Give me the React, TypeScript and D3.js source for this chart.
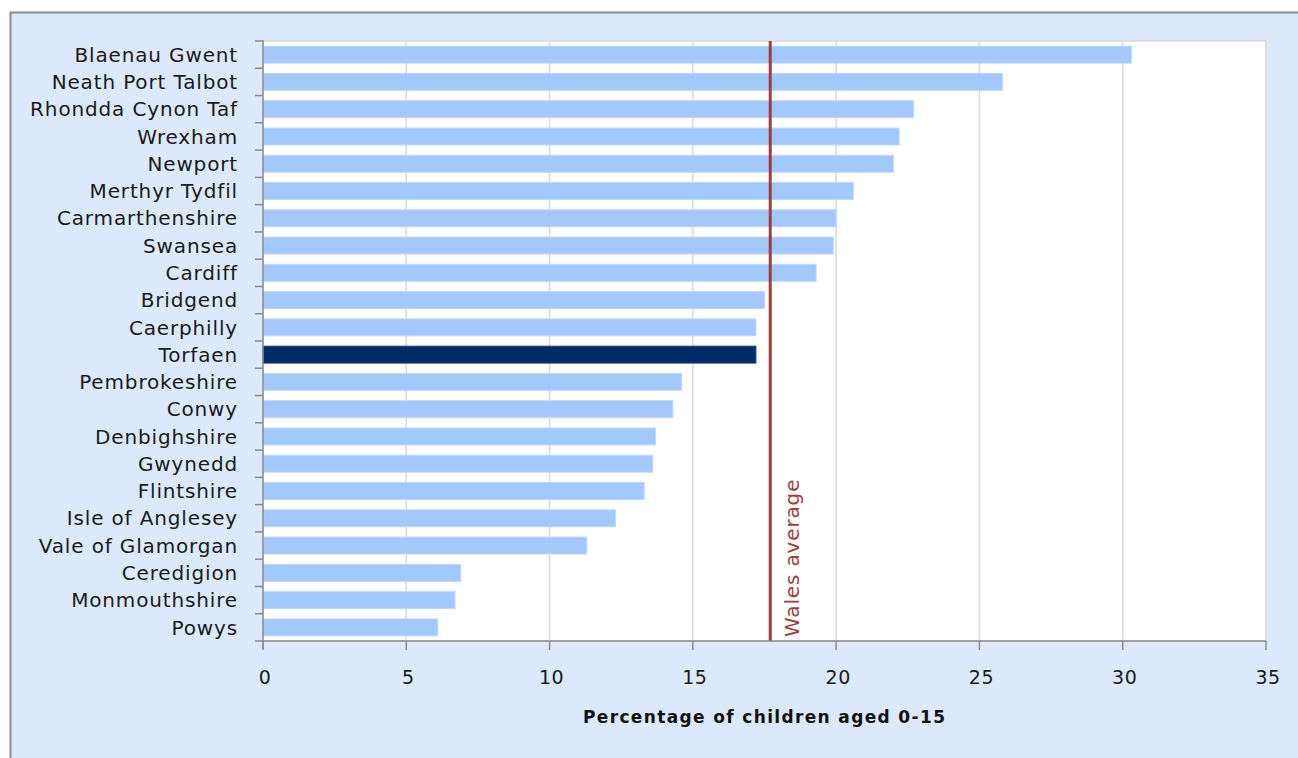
import React from "react";
import * as d3 from "d3";

const categories = [
  "Blaenau Gwent", "Neath Port Talbot", "Rhondda Cynon Taf", "Wrexham", "Newport",
  "Merthyr Tydfil", "Carmarthenshire", "Swansea", "Cardiff", "Bridgend", "Caerphilly",
  "Torfaen", "Pembrokeshire", "Conwy", "Denbighshire", "Gwynedd", "Flintshire",
  "Isle of Anglesey", "Vale of Glamorgan", "Ceredigion", "Monmouthshire", "Powys",
];
const values = [
  30.3, 25.8, 22.7, 22.2, 22.0, 20.6, 20.0, 19.9, 19.3, 17.5, 17.2,
  17.2, 14.6, 14.3, 13.7, 13.6, 13.3, 12.3, 11.3, 6.9, 6.7, 6.1,
];
const highlighted = "Torfaen";
const walesAverage = 17.7;
const xTicks = [0, 5, 10, 15, 20, 25, 30, 35];
const xTitle = "Percentage of children aged 0-15";
const avgLabel = "Wales average";

const W = 1298, H = 758;
const plot = { left: 263, right: 1266, top: 41, bottom: 641 };
const font = "'DejaVu Sans', Verdana, sans-serif";

export default function App() {
  const x = d3.scaleLinear().domain([0, 35]).range([plot.left, plot.right]);
  const y = d3.scaleBand<string>().domain(categories).range([plot.top, plot.bottom]).paddingInner(0.38).paddingOuter(0.19);
  const band = d3.scaleBand<string>().domain(categories).range([plot.top, plot.bottom]);
  const boundaries = categories.map((c) => band(c) as number).concat([plot.bottom]);

  return (
    <div style={{ position: "absolute", left: 0, top: 0 }}>
      <svg width={W} height={H} style={{ display: "block" }}>
        <rect x={0} y={0} width={W} height={H} fill="#ffffff" />
        <rect x={10.5} y={12.5} width={W + 20} height={H + 20} fill="#dce9fc" stroke="#8a8a8a" strokeWidth={2} />
        <rect x={plot.left} y={plot.top} width={plot.right - plot.left} height={plot.bottom - plot.top} fill="#ffffff" stroke="#d9d9d9" strokeWidth={1.5} />
        {xTicks.slice(1).map((t) => (
          <line key={"g" + t} x1={x(t)} x2={x(t)} y1={plot.top} y2={plot.bottom} stroke="#d9d9d9" strokeWidth={1.5} />
        ))}
        {categories.map((c, i) => (
          <rect
            key={c}
            x={x(0)}
            y={y(c)}
            width={x(values[i]) - x(0)}
            height={y.bandwidth()}
            fill={c === highlighted ? "#002b66" : "#a3c8fc"}
            stroke={c === highlighted ? "#1a3f73" : "#bcd7fd"}
            strokeWidth={1}
          />
        ))}
        <line x1={x(walesAverage)} x2={x(walesAverage)} y1={plot.top} y2={plot.bottom} stroke="#a03c3c" strokeWidth={3} />
        <text
          transform={`translate(${x(walesAverage) + 29},${plot.bottom - 4}) rotate(-90)`}
          fill="#a03c3c"
          fontFamily={font}
          fontSize={20}
          letterSpacing={0.85}
        >
          {avgLabel}
        </text>
        {/* y axis */}
        <line x1={plot.left} x2={plot.left} y1={plot.top - 1} y2={plot.bottom + 8} stroke="#8c8c8c" strokeWidth={1.5} />
        {boundaries.map((b, i) => (
          <line key={"yt" + i} x1={plot.left - 8} x2={plot.left} y1={b} y2={b} stroke="#8c8c8c" strokeWidth={1.5} />
        ))}
        {categories.map((c) => (
          <text
            key={"l" + c}
            x={238}
            y={(band(c) as number) + band.bandwidth() / 2}
            dy="0.36em"
            textAnchor="end"
            fontFamily={font}
            fontSize={20}
            letterSpacing={0.85}
            fill="#1a1a1a"
          >
            {c}
          </text>
        ))}
        {/* x axis */}
        <line x1={plot.left} x2={plot.right} y1={plot.bottom} y2={plot.bottom} stroke="#8c8c8c" strokeWidth={1.5} />
        {xTicks.map((t) => (
          <g key={"xt" + t}>
            <line x1={x(t)} x2={x(t)} y1={plot.bottom} y2={plot.bottom + 9} stroke="#8c8c8c" strokeWidth={1.5} />
            <text x={x(t) + 2} y={684} textAnchor="middle" fontFamily={font} fontSize={19} letterSpacing={0.5} fill="#1a1a1a">
              {t}
            </text>
          </g>
        ))}
        <text x={764} y={723} textAnchor="middle" fontFamily={font} fontWeight={700} fontSize={17} textLength={362} lengthAdjust="spacing" fill="#111">
          {xTitle}
        </text>
      </svg>
    </div>
  );
}
